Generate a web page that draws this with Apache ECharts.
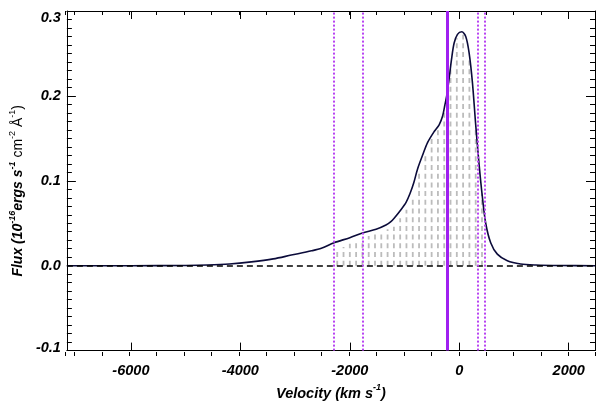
<!DOCTYPE html>
<html>
<head>
<meta charset="utf-8">
<script src="https://cdn.jsdelivr.net/npm/echarts@6.0.0/dist/echarts.min.js"></script>
<style>
html, body { margin: 0; padding: 0; background: #fff; }
#chart { width: 598px; height: 406px; }
</style>
</head>
<body>
<div id="chart"></div>
<script>
// 速度 (km/s) 与流量 (10^-16 ergs/s/cm2/A)
var velocity = [-7170, -6000, -5000, -4600, -4200, -3800, -3400, -3070, -2700, -2520,
	-2290, -2000, -1770, -1520, -1340, -1250, -1190, -1066, -970, -900,
	-830, -762, -671, -580, -459, -368, -306, -264, -228, -186,
	-142, -95, -33, 46, 118, 179, 240, 300, 361, 422,
	483, 574, 695, 878, 1120, 1400, 1850, 2480];
var flux = [0, 0, 0.0003, 0.0008, 0.002, 0.0045, 0.008, 0.0125, 0.0175, 0.0205,
	0.027, 0.033, 0.0386, 0.043, 0.048, 0.052, 0.056, 0.066, 0.075, 0.085,
	0.098, 0.114, 0.130, 0.145, 0.158, 0.166, 0.176, 0.189, 0.201, 0.220,
	0.243, 0.262, 0.2725, 0.2755, 0.270, 0.251, 0.216, 0.166, 0.120, 0.081,
	0.050, 0.027, 0.0136, 0.0058, 0.002, 0.0008, 0.0002, 0];

// 阴影区竖线 (灰色虚线)
var hatchV = [-2230, -2115, -2000, -1885, -1770, -1655, -1540, -1425, -1310, -1195,
	-1080, -965, -850, -735, -620, -505, -390, -275, -160, -45,
	70, 185, 300, 415];
var hatchTop = [0.016, 0.022, 0.026, 0.029, 0.032, 0.035, 0.037, 0.040, 0.043, 0.046,
	0.056, 0.066, 0.082, 0.112, 0.132, 0.150, 0.160, 0.185, 0.235, 0.268,
	0.272, 0.245, 0.160, 0.085];

// 竖直参考线
var dottedV = [-2300, -1770, 330, 460];
var solidV = [-225];

var xMin = -7170, xMax = 2480;
var yMin = -0.1, yMax = 0.3;

var FONT = 'Liberation Sans';
var lbl = { fontFamily: FONT, fontWeight: 'bold', fontStyle: 'italic', fontSize: 14.5, color: '#000' };
var sup = { fontFamily: FONT, fontSize: 9, color: '#000', verticalAlign: 'top', lineHeight: 9 };

var chart = echarts.init(document.getElementById('chart'));

var curveData = [];
for (var i = 0; i < velocity.length; i++) {
	curveData.push([velocity[i], flux[i]]);
}
var hatchData = [];
for (var j = 0; j < hatchV.length; j++) {
	hatchData.push([hatchV[j], hatchTop[j]]);
}

function renderHatch(params, api) {
	var p0 = api.coord([api.value(0), 0]);
	var p1 = api.coord([api.value(0), api.value(1)]);
	return {
		type: 'line',
		shape: { x1: p0[0], y1: p0[1], x2: p1[0], y2: p1[1] },
		style: { stroke: '#bcbcbc', lineWidth: 1.8, lineDash: [5, 3.7] }
	};
}

var axisLine = { show: true, onZero: false, lineStyle: { color: '#000', width: 1 } };

function xBox(grid, pos, split, len) {
	return {
		gridIndex: grid, type: 'value', position: pos,
		min: xMin, max: xMax, splitNumber: split,
		axisLine: grid === 0 ? axisLine : { show: false, onZero: false },
		axisTick: { inside: true, length: len, lineStyle: { color: '#000' } },
		axisLabel: { show: false },
		splitLine: { show: false }
	};
}

var xBottom = xBox(0, 'bottom', 5, 8);
xBottom.axisLabel = Object.assign({}, lbl, {
	show: true, margin: 13, showMinLabel: false, showMaxLabel: false,
	formatter: function(v) { return String(v); }
});
xBottom.name = '{b|Velocity (km s}{s|-1}{b|)}';
xBottom.nameLocation = 'middle';
xBottom.nameGap = 32;
xBottom.nameTextStyle = {
	rich: { b: Object.assign({}, lbl, { lineHeight: 20 }), s: Object.assign({}, sup, { fontWeight: 'bold', fontStyle: 'italic' }) }
};

function yBox(pos) {
	return {
		gridIndex: 0, type: 'value', position: pos,
		min: yMin, max: yMax, interval: 0.1,
		axisLine: axisLine,
		axisTick: { inside: true, length: 9, lineStyle: { color: '#000' } },
		minorTick: { show: true, splitNumber: 10, length: 5, lineStyle: { color: '#000' } },
		axisLabel: { show: false },
		splitLine: { show: false }
	};
}

var yLeft = yBox('left');
yLeft.axisLabel = Object.assign({}, lbl, {
	show: true, margin: 6,
	formatter: function(v) {
		var s = v.toFixed(1);
		if (v > 0.29) return '{t|' + s + '}';
		if (v < -0.09) return '{m|' + s + '}';
		return s;
	},
	rich: {
		t: Object.assign({}, lbl, { padding: [14, 0, 0, 0] }),
		m: Object.assign({}, lbl, { padding: [0, 0, 6, 0] })
	}
});
yLeft.name = '{b|Flux (10}{si|-16}{b|ergs s}{si|-1}{r| cm}{s|-2}{r| Å}{s|-1}{r|)}';
yLeft.nameLocation = 'middle';
yLeft.nameGap = 28;
yLeft.nameTextStyle = {
	padding: [0, 20, 0, 0],
	rich: {
		b: Object.assign({}, lbl, { fontSize: 14, lineHeight: 20 }),
		r: { fontFamily: FONT, fontSize: 14, color: '#000', lineHeight: 20 },
		si: Object.assign({}, sup, { fontWeight: 'bold', fontStyle: 'italic' }),
		s: sup
	}
};

var dottedStyle = { type: [2, 2], color: '#b845f2', width: 2 };
var vLines = [];
for (var k = 0; k < dottedV.length; k++) {
	vLines.push({ xAxis: dottedV[k], lineStyle: dottedStyle });
}
for (var m = 0; m < solidV.length; m++) {
	vLines.push({ xAxis: solidV[m], lineStyle: { type: 'solid', color: '#a020f0', width: 3 } });
}

var option = {
	animation: false,
	backgroundColor: '#fff',
	grid: [
		{ left: 65, right: 3, top: 11, bottom: 50 },
		{ left: 65, right: 3, top: 11, bottom: 50 }
	],
	xAxis: [xBottom, xBox(0, 'top', 5, 8), xBox(1, 'bottom', 19, 4), xBox(1, 'top', 19, 4)],
	yAxis: [yLeft, yBox('right'), { gridIndex: 1, type: 'value', min: yMin, max: yMax, show: false }],
	series: [
		{
			type: 'custom', xAxisIndex: 0, yAxisIndex: 0, silent: true, z: 1,
			renderItem: renderHatch, data: hatchData
		},
		{
			type: 'line', xAxisIndex: 0, yAxisIndex: 0, z: 3,
			data: curveData, showSymbol: false, smooth: 0.3,
			lineStyle: { color: '#0b0b3a', width: 1.6 },
			markLine: {
				silent: true, symbol: ['none', 'none'], label: { show: false },
				data: [{ yAxis: 0, lineStyle: { type: [6, 4], color: '#000', width: 1.5 } }]
			}
		},
		{
			type: 'line', xAxisIndex: 0, yAxisIndex: 0, z: 4, data: [],
			markLine: {
				silent: true, symbol: ['none', 'none'], label: { show: false },
				data: vLines
			}
		}
	]
};

chart.setOption(option);
</script>
</body>
</html>
